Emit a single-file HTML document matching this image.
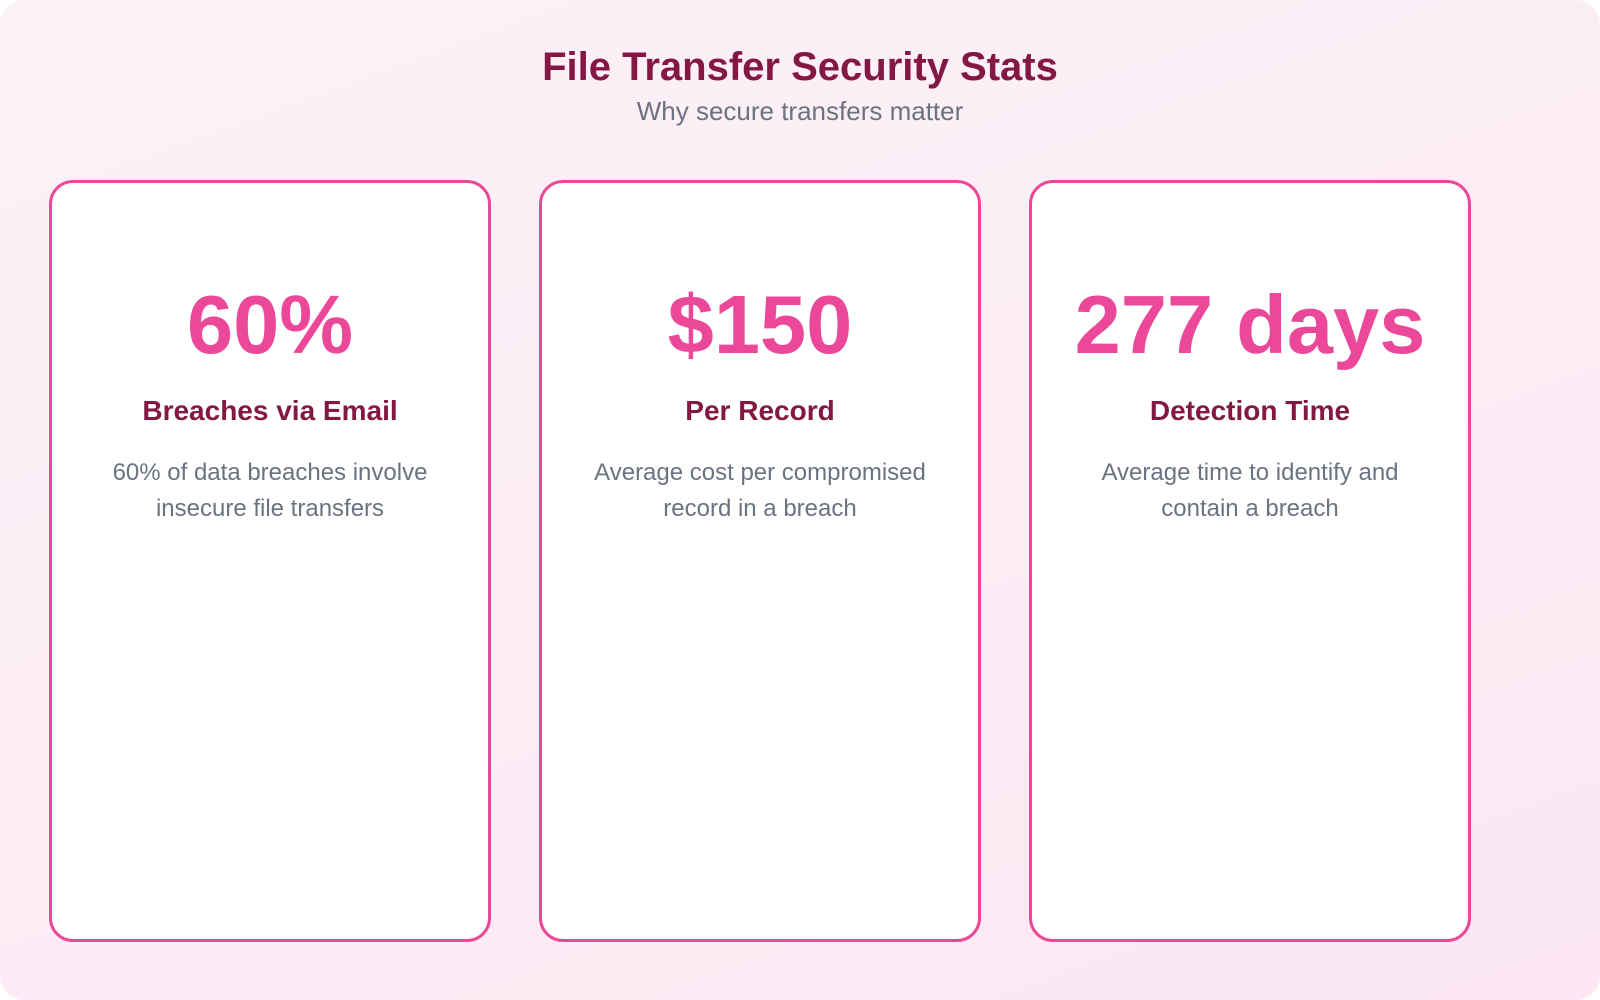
<!DOCTYPE html>
<html><head><meta charset="utf-8"><style>
html,body{margin:0;padding:0;width:1600px;height:1000px;overflow:hidden;background:#fff}
.wrap{position:absolute;left:0;top:0;width:1600px;height:1000px;border-radius:24px;background:linear-gradient(160deg,#fcf2f7 0%,#fce7f2 100%);font-family:"Liberation Sans",Arial,sans-serif}
h1{position:absolute;left:0;width:1600px;top:42px;margin:0;text-align:center;font-size:40px;font-weight:bold;color:#831843;line-height:50px}
.sub{position:absolute;left:0;width:1600px;top:96px;text-align:center;font-size:26px;color:#6b7280;line-height:30px}
.card{position:absolute;top:180px;width:436px;height:756px;border:3px solid #ec4899;border-radius:24px;background:#fff;text-align:center}
.num{position:absolute;left:0;right:0;top:92px;font-size:83px;font-weight:bold;color:#ec4899;line-height:100px}
.lab{position:absolute;left:0;right:0;top:212px;font-size:28px;font-weight:bold;color:#831843;line-height:32px}
.desc{position:absolute;left:20px;right:20px;top:272px;font-size:24px;color:#6b7280;line-height:36px}
</style></head><body><div class="wrap">
<h1>File Transfer Security Stats</h1>
<div class="sub">Why secure transfers matter</div>
<div class="card" style="left:49px"><div class="num">60%</div><div class="lab">Breaches via Email</div><div class="desc">60% of data breaches involve<br>insecure file transfers</div></div>
<div class="card" style="left:539px"><div class="num">$150</div><div class="lab">Per Record</div><div class="desc">Average cost per compromised<br>record in a breach</div></div>
<div class="card" style="left:1029px"><div class="num">277 days</div><div class="lab">Detection Time</div><div class="desc">Average time to identify and<br>contain a breach</div></div>
</div></body></html>
